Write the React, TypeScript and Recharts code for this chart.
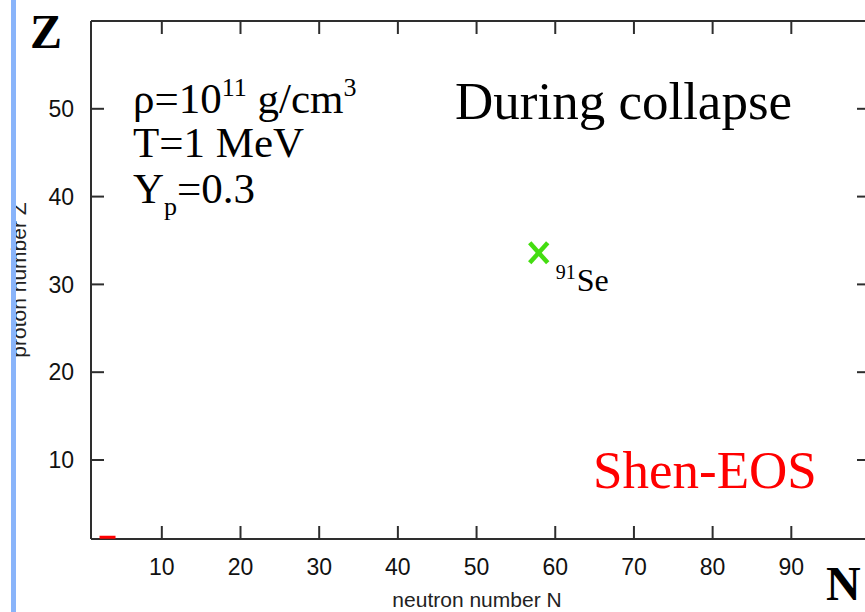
import { ScatterChart, Scatter, XAxis, YAxis } from 'recharts';

// neutron number N ticks / proton number Z ticks
const xTicks = [10, 20, 30, 40, 50, 60, 70, 80, 90];
const yTicks = [10, 20, 30, 40, 50];
const xDomain = [1, 100];
const yDomain = [1, 60];

// most abundant nucleus (green cross) and the light-particle mark at the origin
const heavyNuclei = [{ n: 57.9, z: 33.6, mass: '91', symbol: 'Se' }];
const lightNuclei = [{ n: 3.1, z: 1.2 }];

const W = 900;
const H = 612;
const AXIS = '#2e2e2e';
const serif = '"Liberation Serif", "Times New Roman", serif';
const sans = '"Liberation Sans", Arial, Helvetica, sans-serif';

const TICK_FONT = 23;
const lineStyle = { stroke: AXIS, strokeWidth: 2 };

function BottomTick(props: any) {
  const { x, y, payload } = props;
  return (
    <text x={x} y={y} dy="0.71em" textAnchor="middle" fontSize={TICK_FONT} fontFamily={sans} fill="#111">
      {payload.value}
    </text>
  );
}

function LeftTick(props: any) {
  const { x, y, payload } = props;
  return (
    <text x={x} y={y} dy="0.36em" textAnchor="end" fontSize={TICK_FONT} fontFamily={sans} fill="#111">
      {payload.value}
    </text>
  );
}

function CrossShape(props: any) {
  const { cx, cy, payload } = props;
  return (
    <g>
      <line x1={cx - 9} y1={cy - 10} x2={cx + 9} y2={cy + 10} stroke="#44dd11" strokeWidth={4.5} />
      <line x1={cx + 9} y1={cy - 10} x2={cx - 9} y2={cy + 10} stroke="#44dd11" strokeWidth={4.5} />
      <text x={cx + 17} y={cy + 26} fontFamily={serif} fontSize={20} fill="#000">
        {payload.mass}
      </text>
      <text x={cx + 38} y={cy + 38} fontFamily={serif} fontSize={32} fill="#000">
        {payload.symbol}
      </text>
    </g>
  );
}

function DashShape(props: any) {
  const { cx, cy } = props;
  return <line x1={cx - 8} y1={cy} x2={cx + 8} y2={cy} stroke="#ff0000" strokeWidth={3} />;
}

export default function App() {
  return (
    <div
      style={{
        position: 'fixed',
        left: 0,
        top: 0,
        width: 865,
        height: 612,
        overflow: 'hidden',
        background: '#fff',
      }}
    >
      <ScatterChart width={W} height={H} margin={{ top: 20, right: W - 871, bottom: H - 540, left: 90 }}>
        <XAxis
          type="number"
          dataKey="n"
          domain={xDomain}
          ticks={xTicks}
          allowDataOverflow
          height={1}
          tickSize={-13}
          tickMargin={33}
          tick={<BottomTick />}
          axisLine={lineStyle}
          tickLine={lineStyle}
        />
        <XAxis
          xAxisId="top"
          orientation="top"
          type="number"
          dataKey="n"
          domain={xDomain}
          ticks={xTicks}
          allowDataOverflow
          height={1}
          tickSize={-13}
          tickFormatter={() => ''}
          axisLine={lineStyle}
          tickLine={lineStyle}
        />
        <YAxis
          type="number"
          dataKey="z"
          domain={yDomain}
          ticks={yTicks}
          allowDataOverflow
          width={1}
          tickSize={-13}
          tickMargin={30}
          tick={<LeftTick />}
          axisLine={lineStyle}
          tickLine={lineStyle}
        />
        <YAxis
          yAxisId="right"
          orientation="right"
          type="number"
          dataKey="z"
          domain={yDomain}
          ticks={yTicks}
          allowDataOverflow
          width={1}
          tickSize={-13}
          tickFormatter={() => ''}
          axisLine={lineStyle}
          tickLine={lineStyle}
        />
        <Scatter data={lightNuclei} shape={<DashShape />} isAnimationActive={false} />
        <Scatter data={heavyNuclei} shape={<CrossShape />} isAnimationActive={false} />
      </ScatterChart>

      <svg
        width={865}
        height={612}
        style={{ position: 'absolute', left: 0, top: 0, pointerEvents: 'none' }}
      >
        <text x={30} y={48} fontFamily={serif} fontWeight="bold" fontSize={48} fill="#000">
          Z
        </text>
        <text x={826} y={600} fontFamily={serif} fontWeight="bold" fontSize={48} fill="#000">
          N
        </text>

        <text x={133} y={113} fontFamily={serif} fontSize={43} fill="#000">
          ρ=10
          <tspan fontSize={26} dy={-17}>11</tspan>
          <tspan dy={17}> g/cm</tspan>
          <tspan fontSize={26} dy={-17}>3</tspan>
        </text>
        <text x={133} y={157} fontFamily={serif} fontSize={43} fill="#000">
          T=1 MeV
        </text>
        <text x={133} y={203} fontFamily={serif} fontSize={43} fill="#000">
          Y<tspan fontSize={26} dy={12}>p</tspan>
          <tspan dy={-12}>=0.3</tspan>
        </text>

        <text x={455} y={119} fontFamily={serif} fontSize={53} fill="#000">
          During collapse
        </text>
        <text x={593} y={488} fontFamily={serif} fontSize={53} fill="#ff0000">
          Shen-EOS
        </text>

        <text x={477} y={607} textAnchor="middle" fontFamily={sans} fontSize={21} fill="#222">
          neutron number N
        </text>
        <text
          x={0}
          y={0}
          transform="translate(26 280) rotate(-90)"
          textAnchor="middle"
          fontFamily={sans}
          fontSize={21}
          fill="#222"
        >
          proton number Z
        </text>

        <rect x={11} y={0} width={5} height={612} fill="#89b4fa" />
      </svg>
    </div>
  );
}
